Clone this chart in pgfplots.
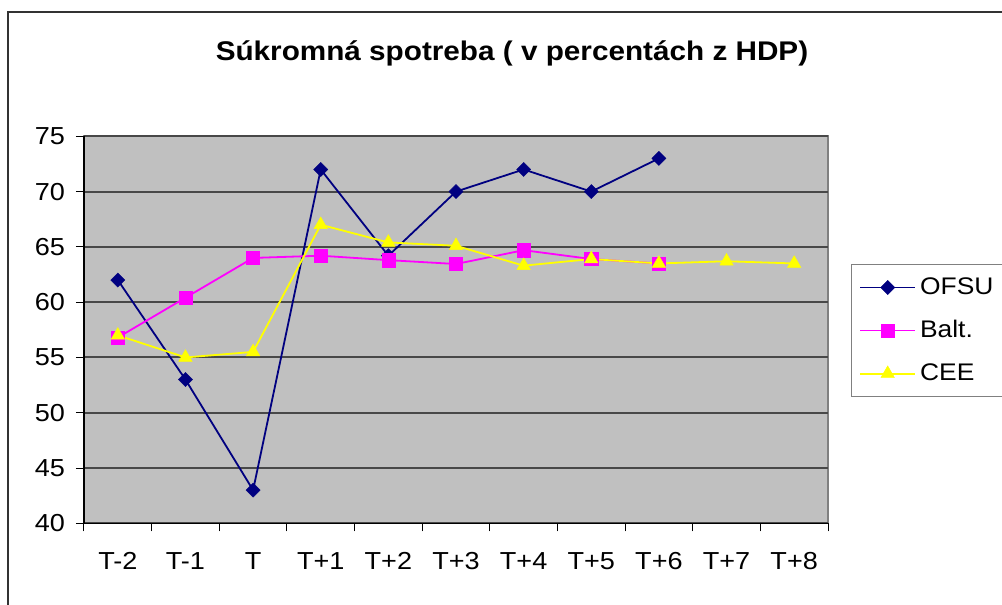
\documentclass[border=0pt]{standalone}
\usepackage{pgfplots}
\pgfplotsset{compat=1.18}
\usepackage{fontspec}
\setmainfont{Liberation Sans}
\newfontfamily\widefont[FakeStretch=1.1]{Liberation Sans}
\definecolor{navyc}{HTML}{000080}
\definecolor{magc}{HTML}{FF00FF}
\definecolor{yelc}{HTML}{FFFF00}
\definecolor{plotbg}{HTML}{C0C0C0}
\definecolor{gridc}{HTML}{484848}
\begin{document}
\begin{tikzpicture}
\useasboundingbox (0,0) rectangle (501pt,302.5pt);
\draw[line width=0.8pt, color=black!80] (4pt,0) -- (4pt,296.5pt) -- (502pt,296.5pt);
\node[font=\widefont\fontsize{13.5}{16}\selectfont\bfseries] at (256pt,276pt) {Súkromná spotreba ( v percentách z HDP)};
\begin{axis}[
  at={(42pt,40.85pt)}, anchor=south west,
  scale only axis, width=372pt, height=193.5pt,
  xmin=-0.5, xmax=10.5, ymin=40, ymax=75,
  axis lines=left, axis line style={-, draw=black, line width=0.6pt},
  axis background/.style={fill=plotbg, draw=gray, line width=0.8pt},
  xtick={0,...,10},
  xticklabels={T-2,T-1,T,T+1,T+2,T+3,T+4,T+5,T+6,T+7,T+8},
  minor xtick={-0.5,0.5,...,10.5},
  ytick={40,45,...,75},
  ymajorgrids, grid style={draw=gridc, line width=1pt},
  tick align=outside, major tick length=4pt, minor tick length=4pt,
  xtick style={draw=none},
  minor x tick style={draw=black, line width=0.5pt},
  ytick style={draw=black, line width=0.5pt},
  /pgf/number format/assume math mode=true,
  tick label style={font=\widefont\fontsize{12.3}{15}\selectfont, black},
  xticklabel style={yshift=-7pt},
  yticklabel style={xshift=-2pt},
  legend style={at={(1.0305,0.670)}, anchor=north west, draw=gray, line width=0.6pt,
    font=\widefont\fontsize{12}{14}\selectfont, row sep=7.5pt, inner xsep=4pt, inner ysep=4.5pt,
    cells={anchor=west}},
  legend image code/.code={\draw[mark repeat=2, mark phase=2, #1] plot coordinates {(0pt,0pt) (13.75pt,0pt) (27.5pt,0pt)};},
  legend cell align=left,
]
\addplot[color=navyc, line width=0.9pt, mark=square*, mark size=2.5pt, mark options={rotate=45, fill=navyc, draw=navyc, line width=0.2pt}]
 coordinates {(0,62) (1,53) (2,43) (3,72) (4,64.2) (5,70) (6,72) (7,70) (8,73)};
\addplot[color=magc, line width=0.9pt, mark=square*, mark size=3.3pt, mark options={fill=magc, draw=magc, line width=0.2pt}]
 coordinates {(0,56.8) (1,60.4) (2,64.0) (3,64.2) (4,63.8) (5,63.45) (6,64.7) (7,63.9) (8,63.5)};
\addplot[color=yelc, line width=0.9pt, mark=triangle*, mark size=3.9pt, mark options={fill=yelc, draw=yelc, line width=0.2pt}]
 coordinates {(0,57) (1,55) (2,55.5) (3,67) (4,65.4) (5,65.1) (6,63.3) (7,63.9) (8,63.5) (9,63.7) (10,63.5)};
\legend{OFSU,Balt.,CEE}
\end{axis}
\end{tikzpicture}
\end{document}
